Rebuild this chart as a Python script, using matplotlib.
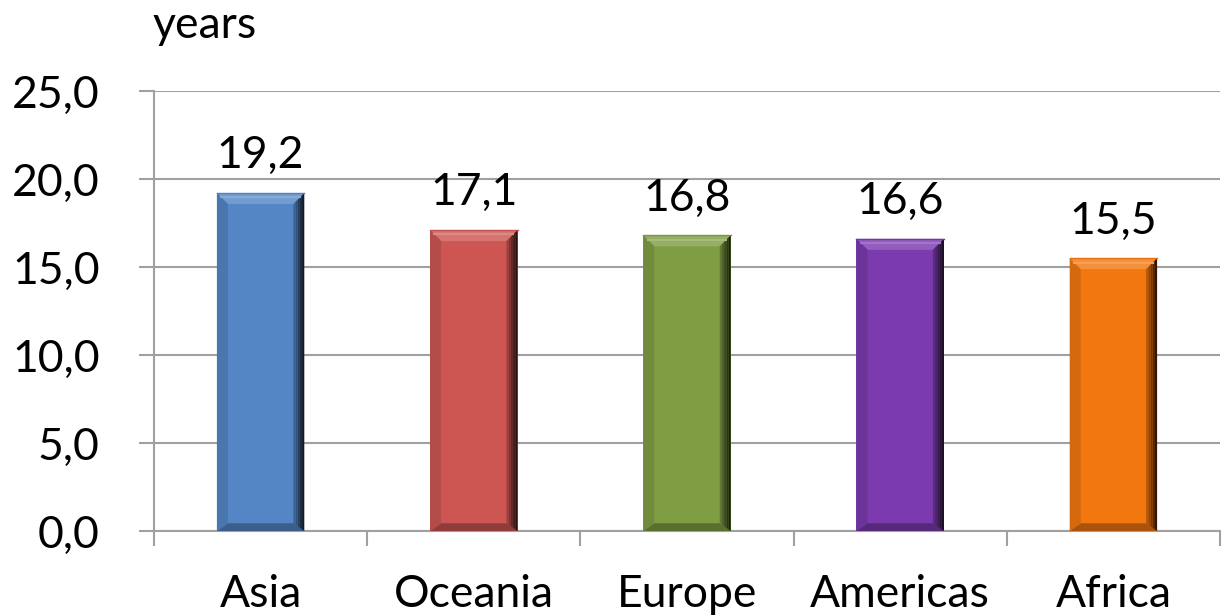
import matplotlib
matplotlib.use("Agg")
import matplotlib.pyplot as plt
from matplotlib.patches import Polygon
import matplotlib.colors as mcolors
import numpy as np

categories = ["Asia", "Oceania", "Europe", "Americas", "Africa"]
values = [19.2, 17.1, 16.8, 16.6, 15.5]
value_labels = ["19,2", "17,1", "16,8", "16,6", "15,5"]
yticks = [0, 5, 10, 15, 20, 25]
ytick_labels = ["0,0", "5,0", "10,0", "15,0", "20,0", "25,0"]
colors = ["#5486C6", "#CD5653", "#7F9E43", "#7B3AAE", "#F2770F"]
unit_label = "years"

plt.rcParams['font.family'] = ['Lato', 'DejaVu Sans']
FS = 32

W, H = 1225, 615
fig = plt.figure(figsize=(W / 100, H / 100), dpi=100)
L, R, T, B = 154, 1220, 91, 531
ax = fig.add_axes([L / W, 1 - B / H, (R - L) / W, (B - T) / H])

x = np.arange(len(categories))
bw = 0.41
ax.set_xlim(-0.5, len(categories) - 0.5)
ax.set_ylim(0, 25)

bars = ax.bar(x, values, width=bw, color=colors, zorder=3)

# bevel in data units
px_x = (R - L) / len(categories)
px_y = (B - T) / 25.0
bpx = 11
dx = bpx / px_x
dy = bpx / px_y


def shade(c, f):
    r, g, b = mcolors.to_rgb(c)
    if f >= 0:
        return (r + (1 - r) * f, g + (1 - g) * f, b + (1 - b) * f)
    f = -f
    return (r * (1 - f), g * (1 - f), b * (1 - f))


for rect, c in zip(bars, colors):
    x0 = rect.get_x()
    x1 = x0 + rect.get_width()
    h = rect.get_height()
    top = [(x0, h), (x1, h), (x1 - dx, h - dy), (x0 + dx, h - dy)]
    ax.add_patch(Polygon(top, closed=True, color=shade(c, 0.18), lw=0, zorder=4))
    bot = [(x0, 0), (x1, 0), (x1 - dx, dy * 0.7), (x0 + dx, dy * 0.7)]
    ax.add_patch(Polygon(bot, closed=True, color=shade(c, -0.3), lw=0, zorder=4))
    left = [(x0, 0), (x0, h), (x0 + dx, h - dy), (x0 + dx, dy * 0.7)]
    ax.add_patch(Polygon(left, closed=True, color=shade(c, -0.12), lw=0, zorder=4))
    # right side gradient strips
    nstr = 5
    for k in range(nstr):
        a = x1 - dx + dx * k / nstr
        b2 = x1 - dx + dx * (k + 1) / nstr
        fa = k / nstr
        fb = (k + 1) / nstr
        poly = [(a, h - dy * (1 - fa)), (b2, h - dy * (1 - fb)),
                (b2, dy * 0.7 * (1 - fb)), (a, dy * 0.7 * (1 - fa))]
        ax.add_patch(Polygon(poly, closed=True,
                             color=shade(c, -(0.25 + 0.55 * k / (nstr - 1))),
                             lw=0, zorder=4))
    # highlight line on top bevel
    ax.plot([x0 + dx * 0.4, x1 - dx * 0.4], [h - dy * 0.4, h - dy * 0.4],
            color=shade(c, 0.3), lw=1.5, zorder=5)
    ax.plot([x0, x1], [h, h], color=shade(c, -0.05), lw=1, zorder=5)

for xi, v, lab in zip(x, values, value_labels):
    ax.annotate(lab, (xi, v), xytext=(0, 12), textcoords="offset points",
                ha="center", va="bottom", fontsize=FS, color="black")

grid_c = "#A0A0A0"
ax.set_yticks(yticks)
ax.set_yticklabels(ytick_labels, fontsize=FS)
ax.yaxis.grid(True, color=grid_c, lw=1.5, zorder=0)
ax.set_axisbelow(True)

ax.set_xticks(np.arange(len(categories) + 1) - 0.5)
ax.set_xticklabels([])
ax.set_xticks(x, minor=True)
ax.set_xticklabels(categories, minor=True, fontsize=FS)
ax.tick_params(axis="x", which="minor", length=0, pad=31)
ax.tick_params(axis="x", which="major", length=11, width=1.5, color=grid_c)
ax.tick_params(axis="y", length=11, width=1.5, color=grid_c, pad=28)

for s in ["top", "right"]:
    ax.spines[s].set_visible(False)
for s in ["left", "bottom"]:
    ax.spines[s].set_color(grid_c)
    ax.spines[s].set_linewidth(1.5)

fig.text(153 / W, 1 - 38 / H, unit_label, fontsize=FS, ha="left", va="baseline")

fig.savefig("out.png", dpi=100)
